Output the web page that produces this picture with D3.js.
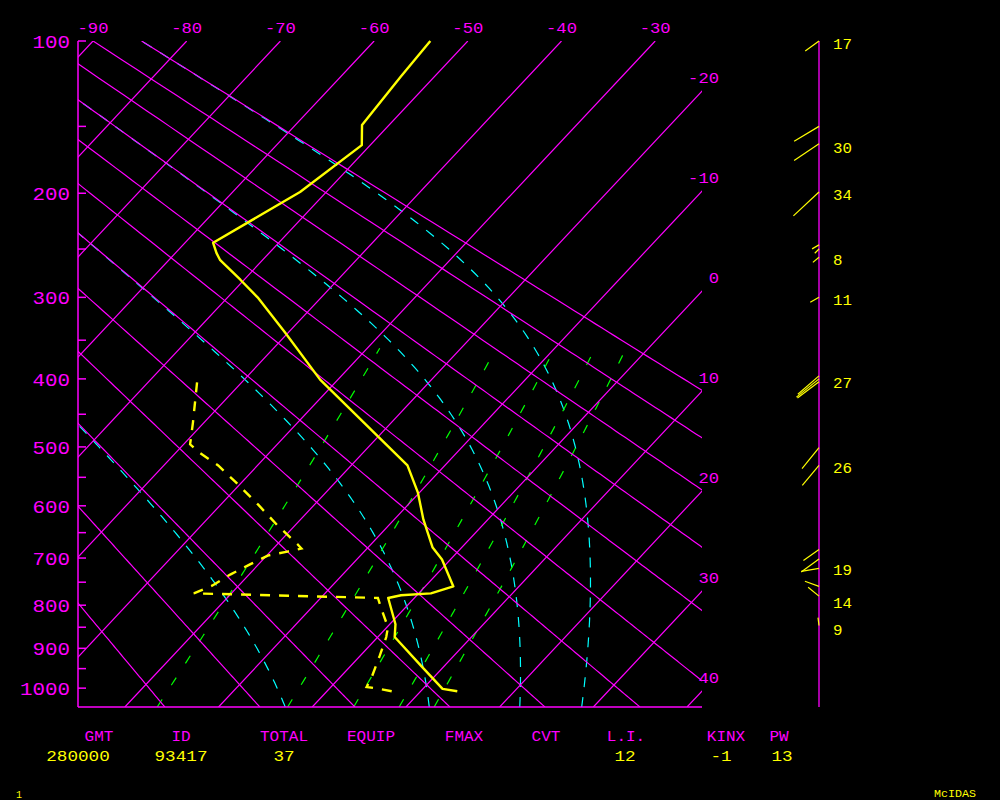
<!DOCTYPE html>
<html><head><meta charset="utf-8">
<script src="https://cdn.jsdelivr.net/npm/d3@7"></script>
<style>body{margin:0;background:#000;overflow:hidden} svg{display:block;background:#000}</style>
</head><body><svg id="c" width="1000" height="800"></svg>
<script>
// ---------------- data ----------------
const pressureMajor = [100,200,300,400,500,600,700,800,900,1000];
const pressureMinor = [150,250,350,450,550,650,750,850,950];
const isotherms = [-90,-80,-70,-60,-50,-40,-30,-20,-10,0,10,20,30,40];
const topIsoLabels = [-90,-80,-70,-60,-50,-40,-30];
const rightIsoLabels = [-20,-10,0,10,20,30,40];
const dryAdiabats = [-20,-10,0,10,20,30,40,50,60,70,80,90];   // theta, deg C
const moistAdiabats = [0,30,60,90];                           // theta-e, deg C
const mixingRatios = [1,3,5,7,9];                             // g/kg
const tempP = [100,119,149,163,199,244,254,261,281,300,341,401,530,576,625,679,703,759,774,778,784,843,873,943,1002,1008];
const tempT = [-54.0,-53.6,-52.9,-50.9,-52.8,-57.0,-55.6,-54.5,-50.4,-46.8,-40.3,-31.9,-14.0,-10.2,-6.9,-3.1,-0.9,3.0,1.3,-1.7,-2.8,0.6,1.8,7.5,12.1,13.9];
const dewP = [1008,1002,997,969,919,873,850,807,784,774,757,734,713,695,687,681,673,635,598,562,530,509,496,462,398];
const dewT = [6.9,5.4,3.8,3.3,2.1,0.9,0.1,-2.5,-3.9,-24.0,-22.8,-22.0,-20.9,-19.9,-18.2,-17.0,-17.8,-22.0,-26.0,-30.2,-34.2,-37.5,-39.3,-41.2,-45.2];
const windP   = [100,150,162,199,246,250,258,300,396,400,404,501,530,683,702,721,759,780,846];
const windDir = [234,239,236,227,240,225,230,241,229,231,233,219,220,235,234,260,290,309,353];
const windSpd = [17,29,30,35,8,6,8,10,28,29,27,27,26,19,22,18,15,14,8];
const windLabelP = [101,164,201,260,302,404,533,722,792,855];
const windLabelTxt = ["17","30","34","8","11","27","26","19","14","9"];
const headerLabels = ["GMT","ID","TOTAL","EQUIP","FMAX","CVT","L.I.","KINX","PW"];
const headerValues = ["280000","93417","37","","","","12","-1","13"];

// ---------------- layout ----------------
const MAG="#ff00ff", YEL="#ffff00", CYA="#00ffff", GRN="#00ff00";
const L=78, R=702, T0=41, B=707, POLE=819;
const FONT="'Liberation Mono', 'DejaVu Sans Mono', monospace";
const CAL=0.7;   // drawing calibration of adiabats (K)
const svg = d3.select("#c");
const y = d3.scalePow().exponent(0.286).domain([100,1050]).range([T0,B]);
const xTop = d3.scaleLinear().domain([-90,-30]).range([93,655.2]);
const SKEW = 0.937;
const X = (t,p) => xTop(t) - SKEW*(y(p)-T0);

svg.append("defs").append("clipPath").attr("id","box")
  .append("rect").attr("x",L).attr("y",T0).attr("width",R-L).attr("height",B-T0);
const plot = svg.append("g").attr("clip-path","url(#box)");
const line = d3.line().x(d=>X(d[1],d[0])).y(d=>y(d[0]));
const plevels = d3.range(1050,99,-5);

// thermodynamics helpers
const es = t => 6.112*Math.exp(17.67*t/(t+243.5));
const tdFromE = e => {const a=Math.log(e/6.112); return 243.5*a/(17.67-a);};
const thetaE = (t,p) => {const K=t+273.15, e=es(t), rs=0.622*e/(p-e);
  return K*Math.pow(1000/p,0.286)*Math.exp(2.5e6*rs/(1004*K));};
function solveMoist(te,p){ let lo=-130, hi=50;
  for(let i=0;i<50;i++){const m=(lo+hi)/2; if(thetaE(m,p)>te) hi=m; else lo=m;} return (lo+hi)/2; }

// moist adiabats (cyan dashed)
moistAdiabats.forEach(th=>{
  const te=th+273.15+CAL;
  plot.append("path").attr("d", line(plevels.map(p=>[p, solveMoist(te,p)])))
    .attr("fill","none").attr("stroke",CYA).attr("stroke-width",1.2).attr("stroke-dasharray","10,10");
});
// mixing ratio lines (green dashed)
mixingRatios.forEach(r=>{
  const pts = d3.range(1050,359,-10).map(p=>[p, tdFromE(r*p/(622+r))]);
  plot.append("path").attr("d", line(pts))
    .attr("fill","none").attr("stroke",GRN).attr("stroke-width",1.2).attr("stroke-dasharray","9,17");
});
// isotherms
isotherms.forEach(t=>{
  plot.append("path").attr("d", line([[1050,t],[100,t]]))
    .attr("fill","none").attr("stroke",MAG).attr("stroke-width",1.2);
});
// dry adiabats
dryAdiabats.forEach(th=>{
  const pts = plevels.map(p=>[p,(th+273.15+CAL)*Math.pow(p/1000,0.286)-273.15]);
  plot.append("path").attr("d", line(pts))
    .attr("fill","none").attr("stroke",MAG).attr("stroke-width",1.2);
});

// axes
svg.append("line").attr("x1",L).attr("x2",L).attr("y1",T0).attr("y2",B).attr("stroke",MAG).attr("stroke-width",1.5);
svg.append("line").attr("x1",L).attr("x2",R).attr("y1",B).attr("y2",B).attr("stroke",MAG).attr("stroke-width",1.5);
pressureMajor.concat(pressureMinor).forEach(p=>{
  svg.append("line").attr("x1",L).attr("x2",L+8).attr("y1",y(p)).attr("y2",y(p)).attr("stroke",MAG).attr("stroke-width",1.5);
});
function txt(x,yy,s,size,fill,anchor,w){
  const t=svg.append("text").attr("x",x).attr("y",yy).text(s).attr("fill",fill)
    .attr("font-family",FONT).attr("font-size",size).attr("text-anchor",anchor);
  if(w) t.attr("textLength",w*s.length).attr("lengthAdjust","spacingAndGlyphs");
  return t;
}
pressureMajor.forEach(p=> txt(70, y(p)+7, String(p), 18, MAG, "end", 12.5));
topIsoLabels.forEach(t=> txt(xTop(t), 33, String(t), 15.5, MAG, "middle", 10.3));
rightIsoLabels.forEach(t=>{
  const yr = T0 + (xTop(t)-R)/SKEW;
  txt(719, yr-8, String(t), 15.5, MAG, "end", 10.3);
});

// sounding
const tempPts = tempP.map((p,i)=>[p,tempT[i]]);
const dewPts = dewP.map((p,i)=>[p,dewT[i]]);
svg.append("path").attr("d", line(tempPts)).attr("fill","none").attr("stroke",YEL).attr("stroke-width",2.4).attr("stroke-linejoin","round");
svg.append("path").attr("d", line(dewPts)).attr("fill","none").attr("stroke",YEL).attr("stroke-width",2.4).attr("stroke-dasharray","10,9");

// wind pole and vectors
svg.append("line").attr("x1",POLE).attr("x2",POLE).attr("y1",T0).attr("y2",B).attr("stroke",MAG).attr("stroke-width",1.3);
windP.forEach((p,i)=>{
  const a=windDir[i]*Math.PI/180, s=windSpd[i];
  svg.append("line").attr("x1",POLE).attr("y1",y(p))
    .attr("x2",POLE+s*Math.sin(a)).attr("y2",y(p)-s*Math.cos(a))
    .attr("stroke",YEL).attr("stroke-width",1.2);
});
windLabelP.forEach((p,i)=> txt(833, y(p)+6, windLabelTxt[i], 15.5, YEL, "start", 9.5));

// bottom table
const hx=[99,181,284,371,464,546,626,726,779];
const vx=[78,181,284,371,464,546,625,721,782];
headerLabels.forEach((s,i)=> txt(hx[i], 741, s, 15.5, MAG, "middle", 9.6));
headerValues.forEach((s,i)=>{ if(s) txt(vx[i], 761, s, 15.5, YEL, "middle", 10.6); });
txt(19, 798, "1", 11, YEL, "middle", 6);
txt(955, 797, "McIDAS", 11, YEL, "middle", 7);
</script></body></html>
